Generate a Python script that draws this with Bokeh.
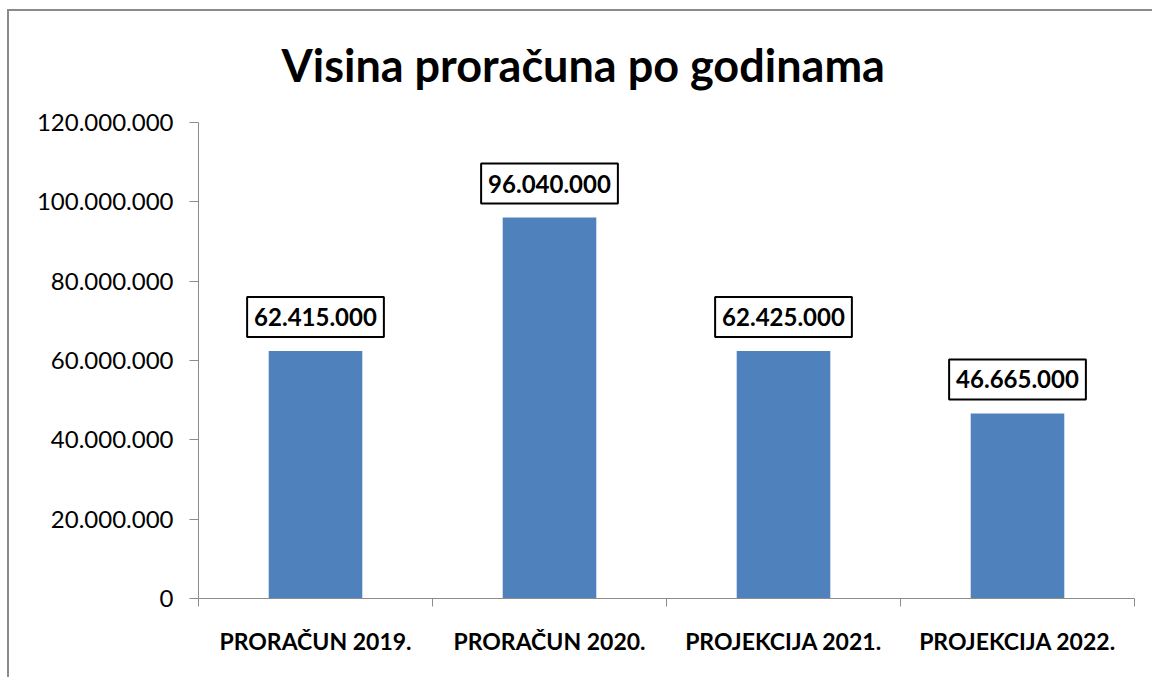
from bokeh.plotting import figure
from bokeh.models import (ColumnDataSource, Range1d, FixedTicker, Label,
                          LinearAxis, InlineStyleSheet, Title)
from bokeh.embed import file_html
from bokeh.resources import INLINE

categories = ["PRORAČUN 2019.", "PRORAČUN 2020.", "PROJEKCIJA 2021.", "PROJEKCIJA 2022."]
values = [62415000, 96040000, 62425000, 46665000]
y_ticks = [0, 20000000, 40000000, 60000000, 80000000, 100000000, 120000000]
title_text = "Visina proračuna po godinama"


def fmt(v):
    return f"{v:,}".replace(",", ".")


x_pos = [i + 0.5 for i in range(len(categories))]
src = ColumnDataSource(dict(x=x_pos, top=values))

FONT = "Lato"
GRID = "#8c8c8c"

p = figure(width=1152, height=677, output_backend="svg", toolbar_location=None,
           x_range=Range1d(0, len(categories)), y_range=Range1d(0, y_ticks[-1]),
           x_axis_type=None, y_axis_type=None,
           min_border_left=198, min_border_right=18, min_border_top=122, min_border_bottom=79)
p.outline_line_color = None
p.background_fill_color = "white"
p.border_fill_color = "white"

p.title = Title(text=title_text, align="left", offset=83, standoff=62,
                text_font=FONT, text_font_style="bold", text_font_size="45px",
                text_color="black")

# outer chart border (decoration only; stays inside the page, no overflow)
p.stylesheets = [InlineStyleSheet(css="""
:host { position: relative; }
:host::before { content: ""; position: absolute; left: 7px; top: 9px; width: 1145px; height: 668px;
  box-sizing: border-box; border-style: solid; border-color: #8a8a8a;
  border-width: 2px 0 0 2px; pointer-events: none; z-index: 5; }
""")]

# y axis
yax = LinearAxis(ticker=FixedTicker(ticks=y_ticks, minor_ticks=[]))
yax.major_label_overrides = {t: fmt(t) for t in y_ticks}
yax.axis_line_color = GRID
yax.major_tick_line_color = GRID
yax.major_tick_out = 9
yax.major_tick_in = 0
yax.minor_tick_line_color = None
yax.major_label_standoff = 16
yax.major_label_text_font = FONT
yax.major_label_text_font_size = "24px"
yax.major_label_text_color = "black"
p.add_layout(yax, "left")

# x axis: labels at centres, ticks at category boundaries
xax = LinearAxis(ticker=FixedTicker(ticks=x_pos, minor_ticks=list(range(len(categories) + 1))))
xax.major_label_overrides = {x: c for x, c in zip(x_pos, categories)}
xax.axis_line_color = GRID
xax.major_tick_line_color = None
xax.major_tick_out = 0
xax.major_tick_in = 0
xax.minor_tick_line_color = GRID
xax.minor_tick_out = 8
xax.minor_tick_in = 0
xax.major_label_standoff = 20
xax.major_label_text_font = FONT
xax.major_label_text_font_style = "bold"
xax.major_label_text_font_size = "23px"
xax.major_label_text_color = "black"
p.add_layout(xax, "below")

p.ygrid.ticker = FixedTicker(ticks=y_ticks)
p.ygrid.grid_line_color = GRID
p.xgrid.grid_line_color = None

p.vbar(x="x", top="top", width=0.4, bottom=0, source=src, color="#4F81BD", line_color=None)

for xv, v in zip(x_pos, values):
    p.add_layout(Label(x=xv, y=v, text=fmt(v), text_align="center",
                       text_baseline="bottom", y_offset=14, text_font=FONT,
                       text_font_style="bold", text_font_size="24px", text_color="black",
                       background_fill_color="white", border_line_color="black",
                       border_line_width=2,
                       padding=dict(left=7, right=7, top=11, bottom=11)))

open("out.html", "w").write(file_html(p, INLINE))
